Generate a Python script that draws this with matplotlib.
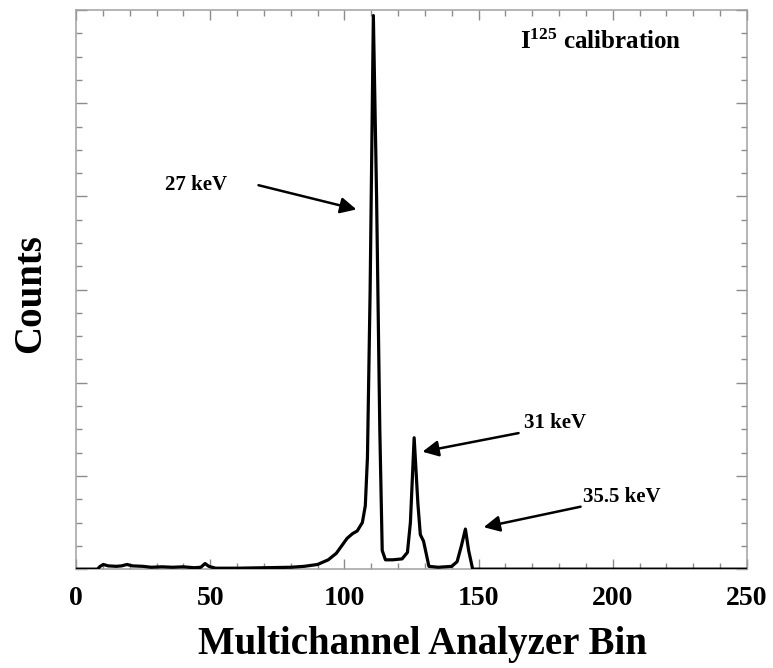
import numpy as np
import matplotlib.pyplot as plt
from matplotlib.ticker import MultipleLocator, NullFormatter

plt.rcParams['font.family'] = ['Liberation Serif', 'DejaVu Serif']
plt.rcParams['font.weight'] = 'bold'
plt.rcParams['mathtext.fontset'] = 'custom'
plt.rcParams['mathtext.rm'] = 'Liberation Serif:bold'
plt.rcParams['mathtext.it'] = 'Liberation Serif:bold'
plt.rcParams['mathtext.bf'] = 'Liberation Serif:bold'

# spectrum (bin, counts in arbitrary units)
bins = [0, 8, 9, 10.2, 12, 15, 17, 19, 21, 25, 28, 32, 36, 40, 44, 46.5, 48.1, 49.5, 52,
        60, 70, 80, 85, 90, 94, 97, 99, 101, 103, 104.8, 106.7, 107.8, 108.6, 109.6, 110.8,
        112.0, 113.2, 114.1, 115.3, 118, 121.5, 123.5, 124.6, 126.0, 127.4, 128.3, 129.5,
        131.5, 135, 140, 142, 143.6, 145.1, 146.3, 147.8, 150, 200, 250]
counts = [0, 0, 0.03, 0.05, 0.035, 0.03, 0.035, 0.05, 0.035, 0.03, 0.02, 0.025, 0.02, 0.025,
          0.015, 0.02, 0.06, 0.03, 0.01,
          0.01, 0.015, 0.02, 0.03, 0.05, 0.1, 0.17, 0.25, 0.33, 0.38, 0.41, 0.5, 0.68, 1.2,
          3.0, 5.94,
          4.0, 1.5, 0.2, 0.1, 0.1, 0.11, 0.18, 0.5, 1.41, 0.7, 0.37, 0.3,
          0.03, 0.02, 0.03, 0.08, 0.25, 0.43, 0.2, 0.0, 0.0, 0.0, 0.0]

# peak labels: text, text position, arrow tail, arrow head
peak_labels = ["27 keV", "31 keV", "35.5 keV"]
label_xy = [(33, 4.12), (166.8, 1.57), (189, 0.77)]
tail_xy = [(68, 4.12), (164.9, 1.46), (188, 0.67)]
head_xy = [(104.5, 3.86), (129.1, 1.26), (151.9, 0.45)]

fig = plt.figure(figsize=(7.73, 6.68), dpi=100)
ax = fig.add_axes([0.0983, 0.148, 0.868, 0.837])

ax.plot(bins, counts, color='black', lw=2.3, solid_joinstyle='round', zorder=3)

ax.set_xlim(0, 250)
ax.set_ylim(0, 6)
ax.xaxis.set_major_locator(MultipleLocator(50))
ax.xaxis.set_minor_locator(MultipleLocator(10))
ax.yaxis.set_major_locator(MultipleLocator(1))
ax.yaxis.set_minor_locator(MultipleLocator(0.25))
ax.yaxis.set_major_formatter(NullFormatter())

tick_grey = '#8c8c8c'
ax.tick_params(which='both', direction='in', top=True, right=True, color=tick_grey, width=1.0)
ax.tick_params(axis='x', which='major', length=7, labelsize=20, pad=12)
ax.tick_params(axis='x', which='minor', length=4)
ax.tick_params(axis='y', which='major', length=8)
ax.tick_params(axis='y', which='minor', length=4.5)
for lab in ax.get_xticklabels():
    lab.set_fontweight('bold')
for side in ['left', 'top', 'right', 'bottom']:
    ax.spines[side].set_color('#a0a0a0')
    ax.spines[side].set_linewidth(1.1)

for text, xy, tail, head in zip(peak_labels, label_xy, tail_xy, head_xy):
    ax.text(xy[0], xy[1], text, fontsize=15, fontweight='bold', ha='left', va='center')
    ax.annotate('', xy=head, xytext=tail,
                arrowprops=dict(arrowstyle='-|>', mutation_scale=24, lw=1.8,
                                color='black', shrinkA=0, shrinkB=0))

ax.text(225.5, 5.66, r'I$^{125}$ calibration', fontsize=18, fontweight='bold',
        ha='right', va='center')

fig.text(0.546, 0.035, 'Multichannel Analyzer Bin', fontsize=28, fontweight='bold',
         ha='center', va='center')
fig.text(0.04, 0.56, 'Counts', fontsize=28, fontweight='bold', rotation=90,
         ha='center', va='center')

fig.savefig('out.png', dpi=100)
